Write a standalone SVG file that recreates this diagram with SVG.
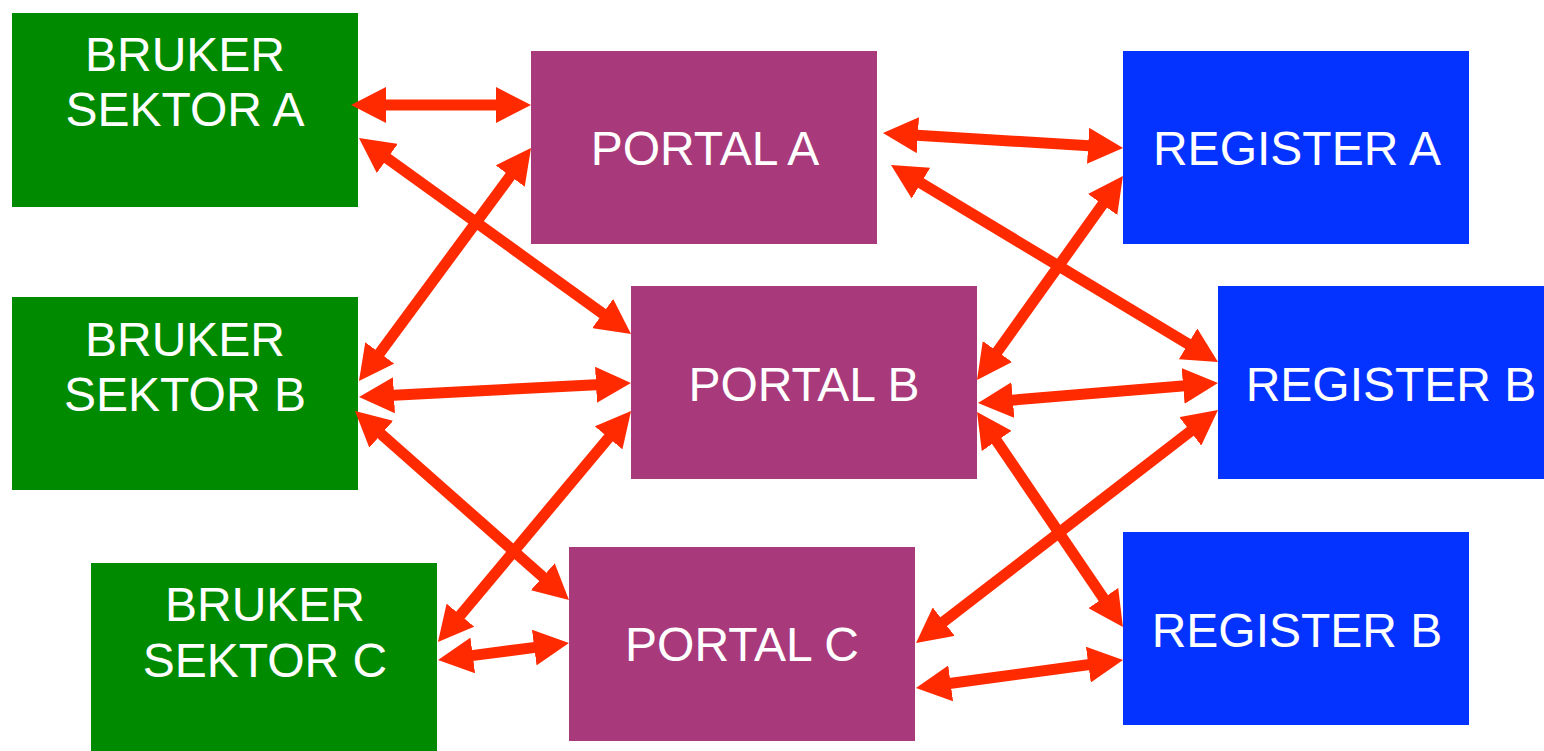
<svg xmlns="http://www.w3.org/2000/svg" width="1544" height="751" viewBox="0 0 1544 751">
<style>
.user{fill:#008a00}
.portal{fill:#a83a7c}
.reg{fill:#0433ff}
text{font-family:"Liberation Sans",Arial,sans-serif;font-size:48px;fill:#fff;text-anchor:middle}
.conn path{stroke:#ff2a00;stroke-width:11;fill:none;marker-start:url(#ah);marker-end:url(#ah)}
</style>
<defs>
<marker id="ah" viewBox="0 0 35 36" refX="5" refY="18" markerWidth="35" markerHeight="36" markerUnits="userSpaceOnUse" orient="auto-start-reverse">
<path d="M0,0 L35,18 L0,36 z" fill="#ff2a00"/>
</marker>
</defs>
<rect width="1544" height="751" fill="#fff"/>
<g id="bruker-a"><rect class="user" x="12" y="13" width="346" height="194"/><text x="185" y="71">BRUKER</text><text x="185" y="126">SEKTOR A</text></g>
<g id="bruker-b"><rect class="user" x="12" y="297" width="346" height="193"/><text x="185" y="356">BRUKER</text><text x="185" y="411">SEKTOR B</text></g>
<g id="bruker-c"><rect class="user" x="91" y="563" width="346" height="188"/><text x="265" y="621">BRUKER</text><text x="265" y="677">SEKTOR C</text></g>
<g id="portal-a"><rect class="portal" x="531" y="51" width="346" height="193"/><text x="705" y="165">PORTAL A</text></g>
<g id="portal-b"><rect class="portal" x="631" y="286" width="346" height="193"/><text x="804" y="401">PORTAL B</text></g>
<g id="portal-c"><rect class="portal" x="569" y="547" width="346" height="194"/><text x="742" y="661">PORTAL C</text></g>
<g id="register-a"><rect class="reg" x="1123" y="51" width="346" height="193"/><text x="1297" y="165">REGISTER A</text></g>
<g id="register-b1"><rect class="reg" x="1218" y="286" width="326" height="193"/><text x="1391" y="401">REGISTER B</text></g>
<g id="register-b2"><rect class="reg" x="1123" y="532" width="346" height="193"/><text x="1297" y="647">REGISTER B</text></g>
<g id="connectors" class="conn">
<path d="M381,105 L501,105"/>
<path d="M383.3,155.5 L606.7,316.5"/>
<path d="M513.2,172.1 L376.8,356.9"/>
<path d="M912.9,134.9 L1093.1,146.1"/>
<path d="M916.7,180.5 L1192.3,346.5"/>
<path d="M1105.5,200.4 L994.5,355.6"/>
<path d="M389,395.5 L601,384.5"/>
<path d="M377.5,430.9 L546.5,580.1"/>
<path d="M611.8,434 L457.2,619"/>
<path d="M467.8,656.1 L539.2,646.9"/>
<path d="M993.9,436.8 L1106.1,602.2"/>
<path d="M1194.2,428.3 L939.8,624.7"/>
<path d="M945.7,684 L1093.3,664"/>
<path d="M1007.9,400.5 L1188.1,385.5"/>
</g>
</svg>
